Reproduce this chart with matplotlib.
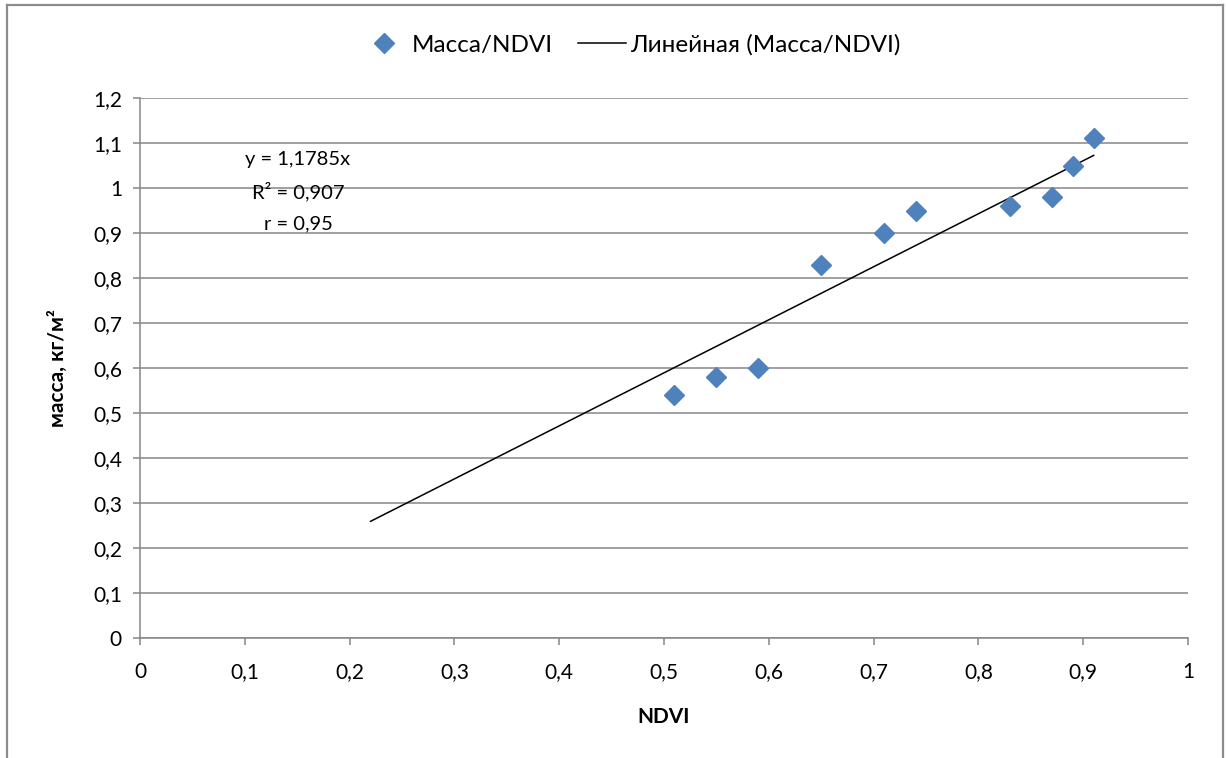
import matplotlib
matplotlib.use("Agg")
import matplotlib.pyplot as plt
from matplotlib.lines import Line2D
import numpy as np

plt.rcParams['font.family'] = ['Lato', 'DejaVu Sans']

# Data
ndvi = [0.51, 0.55, 0.59, 0.65, 0.71, 0.74, 0.83, 0.87, 0.89, 0.91]
mass = [0.54, 0.58, 0.60, 0.83, 0.90, 0.95, 0.96, 0.98, 1.05, 1.11]
trend_slope = 1.1785
trend_x = [0.22, 0.91]
xticks = [0, 0.1, 0.2, 0.3, 0.4, 0.5, 0.6, 0.7, 0.8, 0.9, 1.0]
xtick_labels = ['0', '0,1', '0,2', '0,3', '0,4', '0,5', '0,6', '0,7', '0,8', '0,9', '1']
yticks = [0, 0.1, 0.2, 0.3, 0.4, 0.5, 0.6, 0.7, 0.8, 0.9, 1.0, 1.1, 1.2]
ytick_labels = ['0', '0,1', '0,2', '0,3', '0,4', '0,5', '0,6', '0,7', '0,8', '0,9', '1', '1,1', '1,2']
series_label = 'Масса/NDVI'
trend_label = 'Линейная (Масса/NDVI)'
eq_lines = ['y = 1,1785x', 'R² = 0,907', 'r = 0,95']

W, H = 1227, 758
fig = plt.figure(figsize=(W / 100, H / 100), dpi=100)
ax = fig.add_axes([140 / W, 1 - 638 / H, (1188 - 140) / W, (638 - 98) / H])

grid_c = '#868686'
ax.set_xlim(0, 1)
ax.set_ylim(0, 1.2)
ax.set_yticks(yticks)
ax.set_yticklabels(ytick_labels)
ax.set_xticks(xticks)
ax.set_xticklabels(xtick_labels)
ax.yaxis.grid(True, color=grid_c, linewidth=1.1)
ax.set_axisbelow(True)
for s in ['top', 'right']:
    ax.spines[s].set_visible(False)
for s in ['left', 'bottom']:
    ax.spines[s].set_color(grid_c)
    ax.spines[s].set_linewidth(1.1)
ax.tick_params(axis='both', colors=grid_c, labelcolor='black', labelsize=15,
               direction='out', length=5, width=1.1)
ax.tick_params(axis='x', pad=12)
ax.tick_params(axis='y', pad=8)

tx = np.array(trend_x)
ax.plot(tx, trend_slope * tx, color='black', linewidth=1.1, label=trend_label, zorder=2)
ax.plot(ndvi, mass, linestyle='none', marker='D', markersize=10, color='#4F81BD',
        markeredgecolor='#4F81BD', label=series_label, zorder=3)

for i, t in enumerate(eq_lines):
    fig.text(298 / W, 1 - (160 + 32 * i) / H, t, ha='center', va='center', fontsize=14.5)

ax.set_xlabel('NDVI', fontsize=15, fontweight='bold', labelpad=18)
ax.set_ylabel('масса, кг/м²', fontsize=15, fontweight='bold', labelpad=18)

handles, labels = ax.get_legend_handles_labels()
order = [1, 0]
leg = fig.legend([handles[i] for i in order], [labels[i] for i in order],
                 loc='center', bbox_to_anchor=(630 / W, 1 - 45 / H), ncol=2,
                 frameon=False, fontsize=17.5, handlelength=2.0, columnspacing=1.0,
                 handletextpad=0.15)

# outer chart border
bc = '#8c8c8c'
fig.add_artist(Line2D([7 / W, 7 / W], [0, 1 - 5 / H], color=bc, linewidth=1.6, transform=fig.transFigure))
fig.add_artist(Line2D([7 / W, 1223 / W], [1 - 5 / H, 1 - 5 / H], color=bc, linewidth=1.6, transform=fig.transFigure))
fig.add_artist(Line2D([1223 / W, 1223 / W], [0, 1 - 5 / H], color=bc, linewidth=1.6, transform=fig.transFigure))

fig.savefig('out.png', dpi=100)
